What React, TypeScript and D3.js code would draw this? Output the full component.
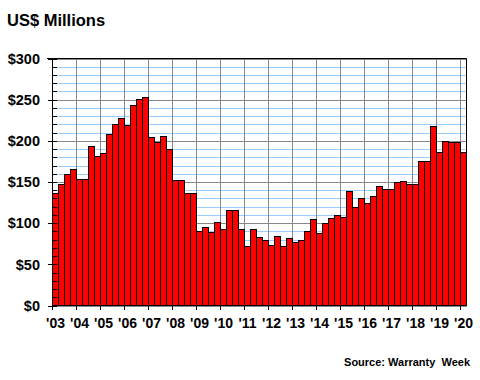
import React from "react";
import * as d3 from "d3";

const years = ["'03","'04","'05","'06","'07","'08","'09","'10","'11","'12","'13","'14","'15","'16","'17","'18","'19","'20"];
const yearStarts = [2003,2004,2005,2006,2007,2008,2009,2010,2011,2012,2013,2014,2015,2016,2017,2018,2019,2020];
const quarters: string[] = [];
for (let y = 2003; y <= 2020; y++) for (let q = 1; q <= 4; q++) if (!(y === 2020 && q > 1)) quarters.push(`${y} Q${q}`);
const values = [
  137,148,160,166,154,154,194,182,185,208,
  221,228,219,244,251,253,205,198,206,190,
  153,153,137,137,91,95,89,101,93,116,
  116,93,72,93,83,80,74,85,72,82,
  77,80,91,105,88,100,106,110,107,139,
  120,130,125,133,145,142,141,150,151,148,
  148,176,176,218,187,200,199,198,187,
];
const yMajor = [0,50,100,150,200,250,300];
const yLabels = ["$0","$50","$100","$150","$200","$250","$300"];
const yMinor = d3.range(0, 301, 10);

export default function App() {
  const left = 52.5, top = 58.5, bottom = 305.5;
  const step = 6;
  const right = left + step * quarters.length;
  const x = d3.scaleBand<string>().domain(quarters).range([left, right]).padding(0);
  const y = d3.scaleLinear().domain([0, 300]).range([bottom, top]);
  const font = "'Liberation Sans', Arial, sans-serif";
  return (
    <svg width={480} height={380} style={{ position: "absolute", left: 0, top: 0, background: "#fff" }}>
      <text x={7} y={26} fontFamily={font} fontWeight="bold" fontSize={16.5} fill="#000">US$ Millions</text>
      {yMinor.map(v => (
        <line key={"b" + v} x1={left} x2={right} y1={Math.round(y(v)) + 0.5} y2={Math.round(y(v)) + 0.5} stroke="#99ccff" strokeWidth={1} />
      ))}
      {yMajor.map(v => (
        <line key={"g" + v} x1={left} x2={right} y1={Math.round(y(v)) + 0.5} y2={Math.round(y(v)) + 0.5} stroke="#888" strokeWidth={1} />
      ))}
      {yearStarts.map(yr => {
        const xx = x(`${yr} Q1`)!;
        return <line key={"v" + yr} x1={xx} x2={xx} y1={top} y2={bottom} stroke="#888" strokeWidth={1} />;
      })}
      {values.map((v, i) => (
        <rect key={quarters[i]} x={x(quarters[i])!} y={Math.round(y(v)) + 0.5} width={x.bandwidth()} height={bottom - (Math.round(y(v)) + 0.5)} fill="#ff0000" stroke="#000" strokeWidth={1} />
      ))}
      <line x1={47} x2={right} y1={top} y2={top} stroke="#000" />
      <line x1={right} x2={right} y1={top} y2={bottom} stroke="#000" />
      <line x1={left} x2={left} y1={top} y2={bottom + 0.5} stroke="#000" />
      <line x1={left} x2={right} y1={bottom} y2={bottom} stroke="#000" />
      {yMinor.map(v => (
        <line key={"t" + v} x1={v % 50 === 0 ? 48 : left} x2={57} y1={Math.round(y(v)) + 0.5} y2={Math.round(y(v)) + 0.5} stroke="#000" />
      ))}
      {yMajor.map((v, i) => (
        <text key={"l" + v} x={40} y={y(v)} dy="0.36em" textAnchor="end" fontFamily={font} fontWeight="bold" fontSize={14.5} fill="#000">{yLabels[i]}</text>
      ))}
      {yearStarts.map((yr, i) => {
        const xx = x(`${yr} Q1`)!;
        return (
          <g key={"x" + yr}>
            <line x1={xx} x2={xx} y1={bottom} y2={310} stroke="#000" />
            <text x={xx + 3} y={328} textAnchor="middle" fontFamily={font} fontWeight="bold" fontSize={14} fill="#000">{years[i]}</text>
          </g>
        );
      })}
      <text x={470} y={366} textAnchor="end" fontFamily={font} fontWeight="bold" fontSize={11} fill="#000" style={{ whiteSpace: "pre" }}>{"Source: Warranty  Week"}</text>
    </svg>
  );
}
